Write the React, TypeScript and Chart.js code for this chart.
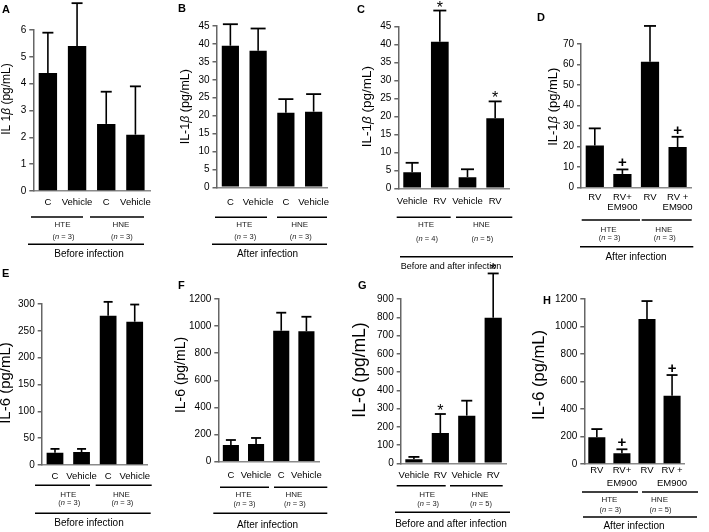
import React, { useEffect, useRef } from 'react';
import { Chart, registerables } from 'chart.js';

Chart.register(...registerables);

const PAGE_W = 709;
const PAGE_H = 532;
const FONT = '"Liberation Sans", Arial, Helvetica, sans-serif';

// ---------- DATA ----------
const catsCV = ['C', 'Vehicle', 'C', 'Vehicle'];
const catsVR = ['Vehicle', 'RV', 'Vehicle', 'RV'];
const catsEM: (string | string[])[] = ['RV', ['RV+', 'EM900'], 'RV', ['RV +', 'EM900']];
const groupNames = ['HTE', 'HNE'];

const aMeans = [4.4, 5.4, 2.5, 2.1];
const aErrors = [1.5, 1.6, 1.2, 1.8];
const aN = [3, 3];
const aMarks = ['', '', '', ''];

const bMeans = [39.5, 38.1, 20.8, 21.1];
const bErrors = [6.0, 6.2, 3.8, 4.9];
const bN = [3, 3];
const bMarks = ['', '', '', ''];

const cMeans = [4.5, 40.8, 3.1, 19.5];
const cErrors = [2.6, 8.7, 2.2, 4.7];
const cN = [4, 5];
const cMarks = ['', '*', '', '*'];

const dMeans = [20.5, 6.7, 61.4, 19.8];
const dErrors = [8.4, 2.2, 17.4, 5.0];
const dN = [3, 3];
const dMarks = ['', '+', '', '+'];

const eMeans = [23, 24, 278, 267];
const eErrors = [7, 6, 26, 32];
const eN = [3, 3];
const eMarks = ['', '', '', ''];

const fMeans = [123, 131, 966, 962];
const fErrors = [37, 44, 133, 107];
const fN = [3, 3];
const fMarks = ['', '', '', ''];

const gMeans = [22, 166, 261, 797];
const gErrors = [13, 104, 82, 243];
const gN = [3, 5];
const gMarks = ['', '*', '', '*'];

const hMeans = [194, 78, 1054, 497];
const hErrors = [60, 29, 131, 150];
const hN = [3, 5];
const hMarks = ['', '+', '', '+'];

type Part = { t: string; it?: boolean };
const il1Label: Part[] = [{ t: 'IL-1' }, { t: 'β', it: true }, { t: ' (pg/mL)' }];
const il1LabelA: Part[] = [{ t: 'IL 1' }, { t: 'β', it: true }, { t: ' (pg/mL)' }];
const il6Label: Part[] = [{ t: 'IL-6 (pg/mL)' }];

// ---------- LAYOUT ----------
interface Panel {
  letter: string; letterX: number; letterY: number;
  cats: (string | string[])[]; means: number[]; errors: number[]; marks: string[]; n: number[];
  yMax: number; yStep: number; yTitle: Part[]; footer: string;
  axisX: number; plotRight: number; yTop: number; yZero: number;
  barPct: number; capW: number; labelSize: number; labelLH: number; labelOff: number;
  titleX: number; titleY: number; titleSize: number;
  gLineY: number; gLines: [number, number][]; gTextY: number; gNY: number;
  bLineY: number; bLine: [number, number]; footerX: number; footerY: number; footerSize: number;
}

const panels: Panel[] = [
  {
    letter: 'A', letterX: 2, letterY: 4, cats: catsCV, means: aMeans, errors: aErrors, marks: aMarks, n: aN,
    yMax: 6, yStep: 1, yTitle: il1LabelA, footer: 'Before infection',
    axisX: 33.3, plotRight: 150, yTop: 30, yZero: 191, barPct: 0.63, capW: 11, labelSize: 9.5, labelLH: 10, labelOff: 11,
    titleX: 7, titleY: 99, titleSize: 12,
    gLineY: 217, gLines: [[31, 83], [90, 144]], gTextY: 224.5, gNY: 237,
    bLineY: 244.3, bLine: [28, 144], footerX: 89, footerY: 254, footerSize: 10,
  },
  {
    letter: 'B', letterX: 178, letterY: 3, cats: catsCV, means: bMeans, errors: bErrors, marks: bMarks, n: bN,
    yMax: 45, yStep: 5, yTitle: il1Label, footer: 'After infection',
    axisX: 216.5, plotRight: 327.5, yTop: 26, yZero: 187.3, barPct: 0.62, capW: 15, labelSize: 9.5, labelLH: 10, labelOff: 14.7,
    titleX: 186, titleY: 106.7, titleSize: 12.5,
    gLineY: 217.3, gLines: [[215, 267], [277, 327]], gTextY: 225, gNY: 237,
    bLineY: 244.3, bLine: [212, 327], footerX: 267.5, footerY: 254, footerSize: 10,
  },
  {
    letter: 'C', letterX: 357, letterY: 4, cats: catsVR, means: cMeans, errors: cErrors, marks: cMarks, n: cN,
    yMax: 45, yStep: 5, yTitle: il1Label, footer: 'Before and after infection',
    axisX: 398.3, plotRight: 509, yTop: 26.7, yZero: 188.3, barPct: 0.64, capW: 13, labelSize: 9.5, labelLH: 10, labelOff: 13.4,
    titleX: 367, titleY: 106.7, titleSize: 13.5,
    gLineY: 217.3, gLines: [[396.7, 450.7], [456, 512.3]], gTextY: 224.5, gNY: 238.5,
    bLineY: 256.7, bLine: [400, 513], footerX: 451, footerY: 266.7, footerSize: 9,
  },
  {
    letter: 'D', letterX: 537, letterY: 12, cats: catsEM, means: dMeans, errors: dErrors, marks: dMarks, n: dN,
    yMax: 70, yStep: 10, yTitle: il1Label, footer: 'After infection',
    axisX: 581, plotRight: 691.4, yTop: 44, yZero: 187.7, barPct: 0.66, capW: 12, labelSize: 9.5, labelLH: 9.5, labelOff: 10,
    titleX: 553.3, titleY: 106.7, titleSize: 13,
    gLineY: 220, gLines: [[581.7, 640], [641.7, 691.7]], gTextY: 229.3, gNY: 238.3,
    bLineY: 246.7, bLine: [580, 693.3], footerX: 636, footerY: 257.3, footerSize: 10,
  },
  {
    letter: 'E', letterX: 2, letterY: 268, cats: catsCV, means: eMeans, errors: eErrors, marks: eMarks, n: eN,
    yMax: 300, yStep: 50, yTitle: il6Label, footer: 'Before infection',
    axisX: 41.7, plotRight: 148, yTop: 304, yZero: 465, barPct: 0.63, capW: 9, labelSize: 9.5, labelLH: 10, labelOff: 11,
    titleX: 6, titleY: 383, titleSize: 15,
    gLineY: 485.3, gLines: [[35, 90], [95.7, 151.7]], gTextY: 494.3, gNY: 503.3,
    bLineY: 513.3, bLine: [35, 150.7], footerX: 89, footerY: 523.3, footerSize: 10,
  },
  {
    letter: 'F', letterX: 178, letterY: 280, cats: catsCV, means: fMeans, errors: fErrors, marks: fMarks, n: fN,
    yMax: 1200, yStep: 200, yTitle: il6Label, footer: 'After infection',
    axisX: 218.3, plotRight: 319, yTop: 299, yZero: 461.7, barPct: 0.64, capW: 10, labelSize: 9.5, labelLH: 10, labelOff: 14,
    titleX: 181, titleY: 375, titleSize: 14,
    gLineY: 487.3, gLines: [[220, 269], [274, 327.3]], gTextY: 495, gNY: 504,
    bLineY: 513.3, bLine: [213.3, 327.3], footerX: 267.5, footerY: 525, footerSize: 10,
  },
  {
    letter: 'G', letterX: 358, letterY: 280, cats: catsVR, means: gMeans, errors: gErrors, marks: gMarks, n: gN,
    yMax: 900, yStep: 100, yTitle: il6Label, footer: 'Before and after infection',
    axisX: 400.7, plotRight: 506.4, yTop: 299, yZero: 463.3, barPct: 0.65, capW: 11, labelSize: 9.5, labelLH: 10, labelOff: 12.4,
    titleX: 360, titleY: 370, titleSize: 17.5,
    gLineY: 485.7, gLines: [[396.7, 445.7], [450, 502.7]], gTextY: 494.3, gNY: 504,
    bLineY: 512.3, bLine: [395, 510], footerX: 451, footerY: 524.3, footerSize: 10,
  },
  {
    letter: 'H', letterX: 543, letterY: 295, cats: catsEM, means: hMeans, errors: hErrors, marks: hMarks, n: hN,
    yMax: 1200, yStep: 200, yTitle: il6Label, footer: 'After infection',
    axisX: 584.3, plotRight: 684.6, yTop: 299, yZero: 464, barPct: 0.68, capW: 11, labelSize: 9.5, labelLH: 13, labelOff: 6.5,
    titleX: 539, titleY: 375, titleSize: 16.5,
    gLineY: 492, gLines: [[582, 638], [642, 698]], gTextY: 500, gNY: 509.5,
    bLineY: 517, bLine: [583, 697], footerX: 634, footerY: 526, footerSize: 10,
  },
];

const YW = 30;
const XH = 30;

function drawParts(ctx: CanvasRenderingContext2D, parts: Part[], size: number, cx: number, cy: number, color: string) {
  ctx.textBaseline = 'middle';
  ctx.textAlign = 'left';
  ctx.fillStyle = color;
  const fontOf = (p: Part) => `${p.it ? 'italic ' : ''}${size}px ${FONT}`;
  let total = 0;
  parts.forEach((p) => { ctx.font = fontOf(p); total += ctx.measureText(p.t).width; });
  let x = cx - total / 2;
  parts.forEach((p) => { ctx.font = fontOf(p); ctx.fillText(p.t, x, cy); x += ctx.measureText(p.t).width; });
}

function hline(ctx: CanvasRenderingContext2D, x1: number, x2: number, y: number, w: number) {
  ctx.beginPath();
  ctx.lineWidth = w;
  ctx.moveTo(x1, y);
  ctx.lineTo(x2, y);
  ctx.stroke();
}

function makeAnnot(p: Panel) {
  return {
    id: 'annot' + p.letter,
    afterDraw(chart: any) {
      const ctx: CanvasRenderingContext2D = chart.ctx;
      const xs = chart.scales.x;
      const ys = chart.scales.y;
      ctx.save();
      ctx.strokeStyle = '#000';
      ctx.fillStyle = '#000';
      // error bars + significance marks
      p.means.forEach((m, i) => {
        const x = xs.getPixelForValue(i);
        const yb = ys.getPixelForValue(m);
        const yt = ys.getPixelForValue(m + p.errors[i]);
        ctx.beginPath();
        ctx.lineWidth = 1.6;
        ctx.moveTo(x, yb);
        ctx.lineTo(x, yt);
        ctx.stroke();
        hline(ctx, x - p.capW / 2, x + p.capW / 2, yt, 1.8);
        const mk = p.marks[i];
        if (mk) {
          ctx.font = mk === '+' ? `bold 15px ${FONT}` : `16px ${FONT}`;
          ctx.textAlign = 'center';
          ctx.textBaseline = 'alphabetic';
          ctx.fillStyle = '#000';
          const mt = ctx.measureText(mk);
          const target = yt - 7;
          const y = target - (mt.actualBoundingBoxDescent - mt.actualBoundingBoxAscent) / 2;
          ctx.fillText(mk, x, y);
        }
      });
      // y title
      ctx.save();
      ctx.translate(p.titleX, p.titleY);
      ctx.rotate(-Math.PI / 2);
      drawParts(ctx, p.yTitle, p.titleSize, 0, 0, '#000');
      ctx.restore();
      // group lines & labels
      ctx.strokeStyle = '#000';
      p.gLines.forEach(([a, b], gi) => {
        hline(ctx, a, b, p.gLineY, 1.5);
        const cx = (xs.getPixelForValue(gi * 2) + xs.getPixelForValue(gi * 2 + 1)) / 2;
        ctx.font = `8px ${FONT}`;
        ctx.textAlign = 'center';
        ctx.textBaseline = 'middle';
        ctx.fillStyle = '#222';
        ctx.fillText(groupNames[gi], cx, p.gTextY);
        drawParts(ctx, [{ t: '(' }, { t: 'n', it: true }, { t: ` = ${p.n[gi]})` }], 7.5, cx + 1, p.gNY, '#222');
      });
      hline(ctx, p.bLine[0], p.bLine[1], p.bLineY, 1.5);
      ctx.font = `${p.footerSize}px ${FONT}`;
      ctx.textAlign = 'center';
      ctx.textBaseline = 'middle';
      ctx.fillStyle = '#000';
      ctx.fillText(p.footer, p.footerX, p.footerY);
      // panel letter
      ctx.font = `bold 11px ${FONT}`;
      ctx.textAlign = 'left';
      ctx.textBaseline = 'top';
      ctx.fillText(p.letter, p.letterX, p.letterY);
      ctx.restore();
    },
  };
}

function PanelChart({ p }: { p: Panel }) {
  const ref = useRef<HTMLCanvasElement | null>(null);
  useEffect(() => {
    if (!ref.current) return;
    const chart = new Chart(ref.current, {
      type: 'bar',
      data: {
        labels: p.cats as any,
        datasets: [{
          data: p.means,
          backgroundColor: '#000',
          borderWidth: 0,
          barPercentage: p.barPct,
          categoryPercentage: 1,
        }],
      },
      options: {
        responsive: false,
        animation: false,
        devicePixelRatio: 1,
        events: [],
        layout: {
          autoPadding: false,
          padding: {
            left: p.axisX - YW,
            right: PAGE_W - p.plotRight,
            top: p.yTop,
            bottom: PAGE_H - p.yZero - XH,
          },
        },
        plugins: { legend: { display: false }, tooltip: { enabled: false }, title: { display: false } },
        scales: {
          x: {
            offset: true,
            grid: { display: false, drawTicks: false },
            border: { display: true, color: '#8a8a8a', width: 1.5 },
            ticks: {
              color: '#000',
              font: { family: FONT, size: p.labelSize, lineHeight: `${p.labelLH}px` },
              padding: p.labelOff - p.labelLH / 2,
              maxRotation: 0,
              minRotation: 0,
              autoSkip: false,
            },
            afterFit: (s: any) => { s.height = XH; },
          },
          y: {
            min: 0,
            max: p.yMax,
            grid: { display: true, drawOnChartArea: false, drawTicks: true, tickLength: 4, color: '#666', lineWidth: 1.5 },
            border: { display: true, color: '#666', width: 1.5 },
            ticks: {
              stepSize: p.yStep,
              color: '#000',
              font: { family: FONT, size: 10 },
              padding: 3,
              callback: (v: any) => String(v),
            },
            afterFit: (s: any) => { s.width = YW; },
          },
        },
      },
      plugins: [makeAnnot(p)],
    } as any);
    return () => chart.destroy();
  }, [p]);
  return (
    <canvas
      ref={ref}
      width={PAGE_W}
      height={PAGE_H}
      style={{ position: 'absolute', left: 0, top: 0, width: PAGE_W, height: PAGE_H }}
    />
  );
}

export default function App() {
  useEffect(() => {
    document.body.style.margin = '0';
  }, []);
  return (
    <div style={{ position: 'relative', width: PAGE_W, height: PAGE_H, background: '#fff', overflow: 'hidden' }}>
      {panels.map((p) => <PanelChart key={p.letter} p={p} />)}
    </div>
  );
}
